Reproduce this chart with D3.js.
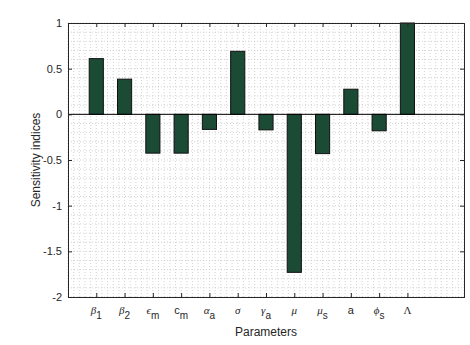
<!DOCTYPE html>
<html>
<head>
<meta charset="utf-8">
<script src="https://cdn.jsdelivr.net/npm/d3@7"></script>
<style>
  body { margin: 0; background: #fff; }
  svg { font-family: "Liberation Sans", Arial, sans-serif; }
</style>
</head>
<body>
<div id="chart"></div>
<script>
// parameter labels: symbol, subscript, whether symbol is greek
const paramSymbols = ["β", "β", "ϵ", "c", "α", "σ", "γ", "μ", "μ", "a", "ϕ", "Λ"];
const paramSubs    = ["1", "2", "m", "m", "a", "",  "a", "",  "s", "",  "s", ""];
const paramGreek   = [true, true, true, false, true, true, true, true, true, false, true, true];
const indices = [0.61, 0.385, -0.425, -0.425, -0.165, 0.69, -0.17, -1.73, -0.43, 0.275, -0.18, 1.0];
const yTicks = [-2, -1.5, -1, -0.5, 0, 0.5, 1];
const yTickLabels = ["-2", "-1.5", "-1", "-0.5", "0", "0.5", "1"];

const margin = { top: 23, right: 6, bottom: 48, left: 68 },
      width = 470 - margin.left - margin.right,
      height = 345 - margin.top - margin.bottom;

const svg = d3.select("#chart")
  .append("svg")
    .attr("width", 470)
    .attr("height", 345)
  .append("g")
    .attr("transform", `translate(${margin.left},${margin.top})`);

const x = d3.scaleLinear().domain([0, 14]).range([0, width]);
const y = d3.scaleLinear().domain([-2, 1]).range([height, 0]);

const axisColor = "#262626";

// minor + major grid (dotted)
const xGrid = d3.range(0, 14.001, 0.2);
const yGrid = d3.range(-2, 1.001, 0.1);
svg.append("g").selectAll("line")
  .data(xGrid)
  .join("line")
    .attr("x1", d => x(d)).attr("x2", d => x(d))
    .attr("y1", 0).attr("y2", height)
    .attr("stroke", "#c8c8c8")
    .attr("stroke-width", 0.8)
    .attr("stroke-dasharray", "1,2");
svg.append("g").selectAll("line")
  .data(yGrid)
  .join("line")
    .attr("y1", d => y(d)).attr("y2", d => y(d))
    .attr("x1", 0).attr("x2", width)
    .attr("stroke", "#c8c8c8")
    .attr("stroke-width", 0.8)
    .attr("stroke-dasharray", "1,2");

// bars
const barW = x(0.5) - x(0);
svg.selectAll("rect.bar")
  .data(indices)
  .join("rect")
    .attr("class", "bar")
    .attr("x", (d, i) => x(i + 1) - barW / 2)
    .attr("y", d => y(Math.max(0, d)))
    .attr("width", barW)
    .attr("height", d => Math.abs(y(d) - y(0)))
    .attr("fill", "#1b4b34")
    .attr("stroke", "#111")
    .attr("stroke-width", 1);

// baseline
svg.append("line")
  .attr("x1", 0).attr("x2", width)
  .attr("y1", y(0)).attr("y2", y(0))
  .attr("stroke", "#000")
  .attr("stroke-width", 1);

// axes with inward ticks
const catTicks = d3.range(1, 13);
const xBottom = svg.append("g")
  .attr("transform", `translate(0,${height})`)
  .call(d3.axisBottom(x).tickValues(catTicks).tickSize(-4).tickFormat(""));
const xTop = svg.append("g")
  .call(d3.axisTop(x).tickValues(catTicks).tickSize(-4).tickFormat(""));
const yLeft = svg.append("g")
  .call(d3.axisLeft(y).tickValues(yTicks).tickSize(-4).tickPadding(6)
    .tickFormat((d, i) => yTickLabels[i]));
const yRight = svg.append("g")
  .attr("transform", `translate(${width},0)`)
  .call(d3.axisRight(y).tickValues(yTicks).tickSize(-4).tickFormat(""));

[xBottom, xTop, yLeft, yRight].forEach(g => {
  g.select(".domain").attr("stroke", axisColor);
  g.selectAll("line").attr("stroke", axisColor);
});
yLeft.selectAll("text")
  .attr("fill", axisColor)
  .style("font-size", "11px")
  .style("font-family", "Liberation Sans, Arial, sans-serif");

// x tick labels with subscripts
const labels = svg.append("g")
  .selectAll("text")
  .data(paramSymbols)
  .join("text")
    .attr("x", (d, i) => x(i + 1))
    .attr("y", height + 17)
    .attr("text-anchor", "middle")
    .attr("fill", axisColor);
labels.each(function(d, i) {
  const t = d3.select(this);
  t.append("tspan")
    .text(d)
    .style("font-family", paramGreek[i] ? "Liberation Serif, Times New Roman, serif" : "Liberation Sans, Arial, sans-serif")
    .style("font-style", paramGreek[i] && d !== "Λ" ? "italic" : "normal")
    .style("font-size", "11px");
  if (paramSubs[i]) {
    t.append("tspan")
      .text(paramSubs[i])
      .attr("dy", 5)
      .style("font-size", "10px");
  }
});

// axis titles
svg.append("text")
  .attr("x", width / 2)
  .attr("y", height + 39)
  .attr("text-anchor", "middle")
  .attr("fill", axisColor)
  .style("font-size", "12px")
  .text("Parameters");

svg.append("text")
  .attr("transform", `translate(-28, ${height / 2}) rotate(-90)`)
  .attr("text-anchor", "middle")
  .attr("fill", axisColor)
  .style("font-size", "12px")
  .text("Sensitivity indices");
</script>
</body>
</html>
